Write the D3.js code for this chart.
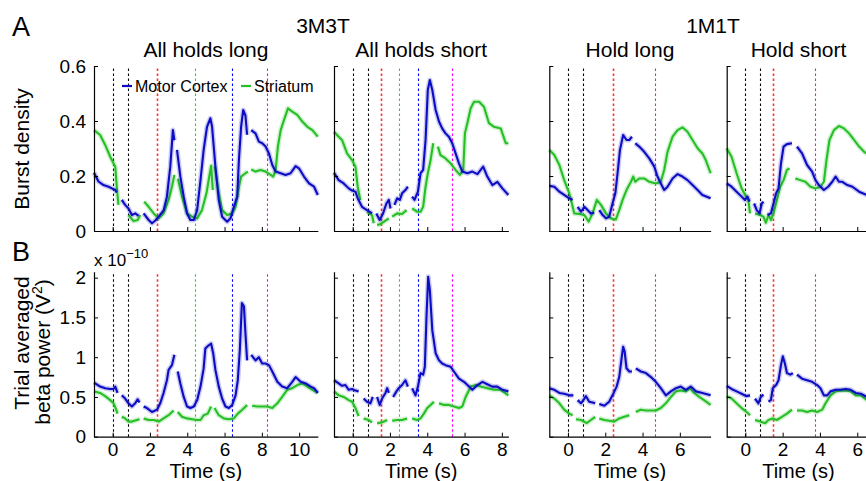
<!DOCTYPE html>
<html>
<head>
<meta charset="utf-8">
<script src="https://cdn.jsdelivr.net/npm/d3@7"></script>
<style>
  body { margin: 0; background: #fff; }
  text { font-family: "Liberation Sans", Arial, sans-serif; fill: #000; }
</style>
</head>
<body>
<div id="chart"></div>
<script>
// ---- data (time in s, burst density, beta power x 1e-10 V^2) ----
const groupTitles = ['3M3T', '1M1T'];
const panelTitles = ['All holds long', 'All holds short', 'Hold long', 'Hold short'];
const legendLabels = ['Motor Cortex', 'Striatum'];

const timeTicksLong3 = [0, 2, 4, 6, 8, 10];
const timeTicksShort3 = [0, 2, 4, 6, 8];
const timeTicks1 = [0, 2, 4, 6];
const burstTicks = [0, 0.2, 0.4, 0.6];
const powerTicks = [0, 0.5, 1, 1.5, 2];

const eventsLong3 = [[0, 'cue'], [0.8, 'cue'], [2.4, 'hold1'], [4.4, 'hold2'], [6.4, 'hold3'], [8.25, 'end']];
const eventsShort3 = [[0, 'cue'], [0.8, 'cue'], [1.5, 'hold1'], [2.5, 'hold2'], [3.5, 'hold3'], [5.35, 'end']];
const eventsLong1 = [[0, 'cue'], [0.8, 'cue'], [2.4, 'hold1'], [4.65, 'end']];
const eventsShort1 = [[0, 'cue'], [0.8, 'cue'], [1.5, 'hold1'], [3.75, 'end']];

// null = gap in the trace
const burstMotorLong3 = [[-1.0,0.212],[-0.76,0.18],[-0.49,0.167],[-0.22,0.161],[-0.04,0.155],[0.14,0.149],[0.22,0.14],null,[0.49,0.113],[0.67,0.095],[0.85,0.082],[1.03,0.058],[1.21,0.064],[1.39,0.055],null,[1.66,0.064],[1.93,0.04],[2.11,0.028],[2.29,0.038],[2.47,0.052],[2.74,0.076],[2.91,0.125],[3.09,0.234],[3.23,0.367],[3.31,0.33],null,[3.45,0.295],[3.63,0.198],[3.81,0.125],[3.99,0.064],[4.17,0.04],[4.35,0.04],[4.53,0.076],[4.71,0.185],[4.88,0.295],[5.06,0.379],[5.24,0.41],[5.33,0.38],[5.51,0.234],[5.69,0.113],[5.87,0.052],[6.14,0.034],[6.32,0.046],[6.5,0.088],[6.68,0.125],[6.77,0.258],[6.89,0.38],[7.0,0.44],[7.12,0.42],[7.21,0.35],null,[7.43,0.367],[7.66,0.355],[7.84,0.325],[8.02,0.319],[8.2,0.307],[8.38,0.282],[8.56,0.24],[8.74,0.216],[9.01,0.21],[9.27,0.204],[9.54,0.21],[9.81,0.236],[9.99,0.228],[10.26,0.198],[10.53,0.173],[10.8,0.161],[11.0,0.131]];
const burstStriatumLong3 = [[-1.0,0.367],[-0.67,0.349],[-0.4,0.313],[-0.13,0.27],[0.14,0.234],[0.22,0.161],[0.31,0.095],null,[0.85,0.058],[1.12,0.036],[1.34,0.04],[1.48,0.058],null,[1.69,0.107],[1.93,0.088],[2.2,0.064],[2.47,0.046],[2.73,0.064],[3.0,0.113],[3.18,0.161],[3.31,0.204],null,[3.5,0.19],[3.72,0.125],[3.99,0.064],[4.26,0.052],[4.53,0.046],[4.79,0.076],[5.03,0.137],[5.21,0.21],[5.28,0.237],[5.37,0.149],null,[5.48,0.234],[5.69,0.137],[5.87,0.076],[6.14,0.058],[6.41,0.064],[6.59,0.088],[6.77,0.161],[6.89,0.198],[7.12,0.21],[7.25,0.216],null,[7.43,0.224],[7.66,0.216],[7.93,0.222],[8.2,0.216],[8.47,0.204],[8.61,0.198],[8.74,0.222],[8.86,0.307],[9.01,0.367],[9.19,0.404],[9.4,0.446],[9.63,0.434],[9.9,0.422],[10.17,0.398],[10.44,0.379],[10.71,0.367],[11.0,0.343]];
const burstMotorShort3 = [[-1.0,0.212],[-0.75,0.185],[-0.48,0.173],[-0.21,0.155],[-0.03,0.147],[0.15,0.143],[0.27,0.119],[0.5,0.088],[0.77,0.076],[1.04,0.064],null,[1.27,0.064],[1.45,0.04],[1.63,0.064],[1.81,0.1],[1.94,0.113],[2.03,0.082],null,[2.24,0.095],[2.39,0.119],[2.53,0.113],[2.65,0.137],[2.83,0.149],[2.96,0.161],null,[3.19,0.125],[3.32,0.113],[3.5,0.143],[3.64,0.21],[3.78,0.222],[3.91,0.331],[4.03,0.513],[4.14,0.549],[4.27,0.513],[4.45,0.44],[4.63,0.398],[4.8,0.373],[4.98,0.355],[5.16,0.343],[5.34,0.319],[5.52,0.282],[5.7,0.246],[5.88,0.216],[6.15,0.21],[6.42,0.216],[6.69,0.207],[7.0,0.234],[7.22,0.198],[7.49,0.167],[7.76,0.179],[8.03,0.155],[8.35,0.131]];
const burstStriatumShort3 = [[-1.0,0.361],[-0.75,0.343],[-0.57,0.331],[-0.3,0.282],[-0.03,0.258],[0.15,0.234],[0.27,0.161],[0.41,0.113],null,[0.77,0.07],[1.04,0.058],[1.13,0.028],null,[1.31,0.022],[1.49,0.025],[1.76,0.038],[1.94,0.046],null,[2.12,0.052],[2.39,0.064],[2.65,0.062],[2.89,0.076],null,[3.19,0.082],[3.46,0.07],[3.64,0.07],[3.78,0.088],[3.91,0.161],[4.03,0.21],[4.18,0.258],[4.32,0.319],null,[4.57,0.307],[4.71,0.276],[4.98,0.264],[5.25,0.246],[5.52,0.222],[5.75,0.204],[5.93,0.222],[6.02,0.355],[6.15,0.392],[6.33,0.446],[6.51,0.47],[6.78,0.47],[7.04,0.452],[7.31,0.392],[7.58,0.379],[7.94,0.373],[8.21,0.319],[8.35,0.319]];
const burstMotorLong1 = [[-1.0,0.164],[-0.73,0.161],[-0.46,0.143],[-0.2,0.131],[0.07,0.119],[0.25,0.113],null,[0.52,0.088],[0.7,0.07],[0.88,0.088],[1.05,0.076],[1.23,0.064],[1.41,0.067],null,[1.68,0.076],[1.86,0.058],[2.04,0.046],[2.21,0.052],[2.39,0.1],[2.54,0.137],[2.66,0.21],[2.79,0.295],[2.96,0.349],[3.14,0.331],[3.29,0.331],[3.43,0.343],null,[3.61,0.319],[3.82,0.307],[4.09,0.288],[4.36,0.264],[4.63,0.234],[4.8,0.198],[4.98,0.173],[5.16,0.149],[5.34,0.161],[5.61,0.191],[5.88,0.207],[6.14,0.198],[6.41,0.185],[6.68,0.167],[6.95,0.149],[7.21,0.131],[7.65,0.119]];
const burstStriatumLong1 = [[-1.0,0.295],[-0.73,0.276],[-0.46,0.24],[-0.2,0.185],[0.07,0.137],[0.21,0.1],[0.34,0.064],[0.61,0.062],[0.88,0.058],[1.11,0.034],[1.32,0.064],[1.55,0.113],[1.77,0.095],[2.04,0.064],[2.3,0.046],[2.57,0.042],[2.75,0.076],[2.93,0.113],[3.14,0.149],[3.38,0.179],[3.5,0.198],[3.61,0.179],[3.82,0.191],[4.09,0.191],[4.36,0.179],[4.71,0.173],[4.98,0.179],[5.16,0.222],[5.34,0.288],[5.61,0.343],[5.88,0.367],[6.14,0.377],[6.41,0.361],[6.68,0.331],[6.95,0.301],[7.21,0.282],[7.39,0.258],[7.65,0.21]];
const burstMotorShort1 = [[-1.0,0.173],[-0.74,0.161],[-0.47,0.143],[-0.2,0.125],[-0.02,0.113],[0.11,0.125],[0.22,0.107],null,[0.47,0.1],[0.61,0.076],[0.76,0.064],[0.88,0.1],[0.97,0.107],null,[1.19,0.058],[1.37,0.064],[1.51,0.1],[1.65,0.137],[1.78,0.155],[1.91,0.246],[2.05,0.307],[2.23,0.316],[2.5,0.319],null,[2.77,0.307],[3.04,0.282],[3.31,0.24],[3.58,0.216],[3.76,0.185],[3.94,0.167],[4.21,0.149],[4.44,0.161],[4.66,0.179],[4.84,0.198],[5.02,0.179],[5.2,0.179],[5.47,0.167],[5.74,0.161],[6.1,0.143],[6.51,0.131],[6.7,0.125]];
const burstStriatumShort1 = [[-1.0,0.301],[-0.74,0.27],[-0.47,0.21],[-0.2,0.155],[0.04,0.125],[0.16,0.113],[0.25,0.064],null,[0.52,0.064],[0.79,0.058],[0.97,0.052],[1.1,0.03],[1.24,0.058],[1.37,0.04],[1.51,0.064],[1.69,0.113],[1.87,0.161],[2.05,0.185],[2.23,0.222],[2.37,0.228],null,[2.68,0.191],[2.95,0.185],[3.22,0.179],[3.49,0.161],[3.76,0.155],[4.03,0.161],[4.21,0.179],[4.35,0.258],[4.51,0.331],[4.75,0.367],[5.02,0.382],[5.29,0.373],[5.56,0.355],[5.83,0.331],[6.1,0.307],[6.37,0.288],[6.51,0.282],[6.7,0.27]];

const powerMotorLong3 = [[-1.0,0.68],[-0.67,0.63],[-0.4,0.61],[-0.13,0.6],[0.05,0.6],[0.14,0.63],[0.26,0.55],null,[0.49,0.52],[0.67,0.48],[0.85,0.42],[1.03,0.38],[1.21,0.42],[1.34,0.47],[1.44,0.43],null,[1.66,0.38],[1.84,0.36],[2.11,0.31],[2.38,0.34],[2.55,0.42],[2.73,0.55],[2.91,0.71],[3.0,0.84],[3.18,0.9],[3.31,1.03],null,[3.49,0.82],[3.63,0.67],[3.81,0.5],[3.99,0.38],[4.17,0.36],[4.35,0.38],[4.53,0.46],[4.71,0.63],[4.88,0.86],[4.97,1.11],[5.15,1.15],[5.28,1.17],[5.39,1.05],[5.51,0.84],[5.69,0.63],[5.87,0.48],[6.05,0.38],[6.23,0.36],[6.41,0.4],[6.59,0.52],[6.71,0.71],[6.82,1.09],[6.93,1.68],[7.04,1.64],[7.12,1.3],[7.21,0.96],null,[7.43,1.03],[7.66,0.96],[7.84,1.0],[8.02,0.92],[8.2,0.92],[8.38,0.9],[8.56,0.82],[8.83,0.69],[9.09,0.63],[9.36,0.61],[9.63,0.69],[9.81,0.75],[10.08,0.69],[10.35,0.67],[10.62,0.63],[10.8,0.61],[11.0,0.55]];
const powerStriatumLong3 = [[-1.0,0.57],[-0.67,0.55],[-0.4,0.51],[-0.13,0.46],[0.05,0.42],[0.19,0.34],[0.26,0.29],null,[0.49,0.25],[0.67,0.23],[0.85,0.19],[1.03,0.19],[1.3,0.21],[1.44,0.22],null,[1.66,0.23],[1.93,0.21],[2.2,0.21],[2.47,0.19],[2.73,0.23],[3.0,0.27],[3.27,0.33],null,[3.49,0.31],[3.72,0.25],[3.99,0.23],[4.26,0.22],[4.53,0.21],[4.71,0.21],[4.88,0.27],[5.1,0.29],[5.28,0.38],null,[5.46,0.36],[5.69,0.27],[5.96,0.23],[6.23,0.22],[6.5,0.23],[6.71,0.29],[6.95,0.34],[7.21,0.4],null,[7.48,0.39],[7.75,0.38],[8.02,0.38],[8.29,0.38],[8.56,0.36],[8.83,0.42],[9.09,0.5],[9.36,0.59],[9.63,0.61],[9.9,0.65],[10.17,0.67],[10.44,0.63],[10.71,0.59],[11.0,0.55]];
const powerMotorShort3 = [[-1.0,0.71],[-0.75,0.67],[-0.57,0.64],[-0.39,0.65],[-0.21,0.59],[-0.03,0.6],[0.15,0.58],[0.32,0.57],null,[0.59,0.48],[0.77,0.44],[0.95,0.42],[1.08,0.5],null,[1.31,0.5],[1.45,0.4],[1.58,0.48],[1.76,0.55],[1.85,0.61],[1.94,0.55],null,[2.17,0.5],[2.35,0.57],[2.47,0.61],[2.65,0.65],[2.83,0.71],[2.96,0.63],null,[3.19,0.61],[3.37,0.52],[3.5,0.63],[3.64,0.8],[3.78,0.78],[3.87,0.88],[3.96,1.51],[4.05,2.01],[4.14,1.84],[4.27,1.34],[4.45,1.05],[4.63,0.96],[4.8,0.92],[4.98,0.9],[5.25,0.88],[5.43,0.82],[5.7,0.73],[5.97,0.69],[6.24,0.63],[6.42,0.59],[6.69,0.65],[6.96,0.69],[7.22,0.66],[7.49,0.63],[7.76,0.63],[8.03,0.59],[8.35,0.57]];
const powerStriatumShort3 = [[-1.0,0.57],[-0.75,0.52],[-0.48,0.5],[-0.21,0.46],[-0.03,0.44],[0.15,0.36],[0.32,0.26],null,[0.59,0.23],[0.86,0.21],[1.04,0.18],null,[1.31,0.17],[1.58,0.18],[1.85,0.21],null,[2.12,0.2],[2.39,0.21],[2.65,0.21],[2.92,0.23],null,[3.19,0.23],[3.46,0.21],[3.64,0.23],[3.82,0.29],[4.0,0.36],[4.18,0.4],[4.36,0.44],null,[4.63,0.42],[4.89,0.4],[5.16,0.4],[5.43,0.38],[5.7,0.36],[5.88,0.38],[6.06,0.5],[6.33,0.63],[6.6,0.65],[6.87,0.63],[7.22,0.61],[7.58,0.59],[7.94,0.59],[8.35,0.52]];
const powerMotorLong1 = [[-1.0,0.61],[-0.73,0.59],[-0.46,0.55],[-0.2,0.54],[0.07,0.52],[0.29,0.52],null,[0.52,0.46],[0.7,0.42],[0.88,0.48],[0.96,0.51],[1.14,0.44],[1.32,0.43],[1.46,0.42],null,[1.68,0.41],[1.95,0.39],[2.21,0.44],[2.39,0.52],[2.61,0.63],[2.75,0.75],[2.89,1.01],[2.96,1.13],[3.04,1.07],[3.14,0.86],[3.29,0.82],[3.43,0.82],null,[3.64,0.86],[3.91,0.82],[4.18,0.8],[4.45,0.75],[4.71,0.69],[4.98,0.61],[5.25,0.52],[5.52,0.57],[5.79,0.61],[6.05,0.63],[6.32,0.59],[6.59,0.63],[6.86,0.57],[7.21,0.55],[7.65,0.52]];
const powerStriatumLong1 = [[-1.0,0.52],[-0.73,0.48],[-0.46,0.42],[-0.2,0.34],[0.07,0.29],[0.25,0.27],null,[0.43,0.22],[0.7,0.21],[1.0,0.17],[1.23,0.21],[1.46,0.25],null,[1.68,0.23],[1.95,0.21],[2.21,0.2],[2.48,0.19],[2.75,0.23],[3.02,0.25],[3.29,0.27],null,[3.64,0.31],[3.91,0.34],[4.18,0.33],[4.45,0.33],[4.71,0.33],[4.98,0.36],[5.25,0.42],[5.52,0.5],[5.79,0.57],[6.05,0.58],[6.32,0.57],[6.54,0.61],[6.77,0.55],[7.04,0.5],[7.3,0.46],[7.65,0.4]];
const powerMotorShort1 = [[-1.0,0.64],[-0.74,0.6],[-0.47,0.57],[-0.2,0.54],[0.04,0.51],[0.25,0.52],null,[0.52,0.48],[0.7,0.42],[0.83,0.5],[0.97,0.53],null,[1.24,0.44],[1.37,0.46],[1.47,0.61],[1.65,0.65],[1.78,0.71],[1.91,0.9],[2.01,1.01],[2.12,0.92],[2.23,0.8],[2.41,0.78],[2.55,0.8],null,[2.77,0.78],[3.04,0.73],[3.31,0.71],[3.58,0.69],[3.85,0.65],[4.03,0.61],[4.21,0.52],[4.39,0.52],[4.57,0.57],[4.84,0.59],[5.11,0.59],[5.38,0.6],[5.65,0.59],[5.92,0.55],[6.19,0.54],[6.51,0.5],[6.7,0.48]];
const powerStriatumShort1 = [[-1.0,0.51],[-0.74,0.48],[-0.47,0.42],[-0.2,0.36],[0.07,0.31],[0.25,0.27],null,[0.52,0.21],[0.79,0.19],[1.06,0.17],[1.24,0.21],[1.47,0.23],[1.69,0.21],[1.96,0.25],[2.23,0.29],[2.5,0.34],null,[2.77,0.33],[3.04,0.33],[3.31,0.31],[3.58,0.33],[3.85,0.31],[4.12,0.34],[4.3,0.42],[4.57,0.52],[4.84,0.57],[5.11,0.58],[5.38,0.58],[5.65,0.57],[5.92,0.52],[6.19,0.52],[6.51,0.46],[6.7,0.44]];

// ---- layout ----
const width = 866, height = 481;
const pxPerSec = 18.65;
const motorColor = '#0c0cc4', striatumColor = '#26c026';
const eventColors = { cue: '#000', hold1: '#ff3030', hold2: '#00ee00', hold3: '#0000ff', end: '#ff00ff' };
const font = '"Liberation Sans", Arial, sans-serif';

const panels = [
    { left: 94, tEnd: 11, ticks: timeTicksLong3, events: eventsLong3, title: panelTitles[0],
      burst: [burstMotorLong3, burstStriatumLong3], power: [powerMotorLong3, powerStriatumLong3] },
    { left: 334, tEnd: 8.35, ticks: timeTicksShort3, events: eventsShort3, title: panelTitles[1],
      burst: [burstMotorShort3, burstStriatumShort3], power: [powerMotorShort3, powerStriatumShort3] },
    { left: 549.3, tEnd: 7.65, ticks: timeTicks1, events: eventsLong1, title: panelTitles[2],
      burst: [burstMotorLong1, burstStriatumLong1], power: [powerMotorLong1, powerStriatumLong1] },
    { left: 726.7, tEnd: 6.7, ticks: timeTicks1, events: eventsShort1, title: panelTitles[3],
      burst: [burstMotorShort1, burstStriatumShort1], power: [powerMotorShort1, powerStriatumShort1] },
];

const yBurst = d3.scaleLinear().domain([0, 0.6]).range([231, 66]);
const yPower = d3.scaleLinear().domain([0, 2.075]).range([436.7, 271.7]);

const svg = d3.select('#chart').append('svg')
    .attr('width', width).attr('height', height)
    .style('font-family', font);

function drawPanel(p, i, y, yTicks, seriesList, showXLabels) {
    const x = d3.scaleLinear().domain([-1, p.tEnd]).range([p.left, p.left + (p.tEnd + 1) * pxPerSec]);
    const g = svg.append('g');

    // event markers
    g.selectAll('.ev').data(p.events).enter().append('line')
        .attr('x1', d => Math.round(x(d[0])) + 0.5).attr('x2', d => Math.round(x(d[0])) + 0.5)
        .attr('y1', y.range()[0]).attr('y2', y.range()[1])
        .attr('stroke', d => eventColors[d[1]])
        .attr('stroke-width', d => d[1] === 'hold1' ? 1.6 : 1.1)
        .attr('stroke-dasharray', '2.5,2.5');

    const line = d3.line().defined(d => d !== null).x(d => x(d[0])).y(d => y(d[1]));
    const colors = [motorColor, striatumColor];
    // draw striatum first, motor cortex on top
    [1, 0].forEach(k => {
        g.append('path').attr('d', line(seriesList[k])).attr('fill', 'none')
            .attr('stroke', colors[k]).attr('stroke-opacity', 0.22).attr('stroke-width', 5)
            .attr('stroke-linejoin', 'round');
        g.append('path').attr('d', line(seriesList[k])).attr('fill', 'none')
            .attr('stroke', colors[k]).attr('stroke-width', 2.1).attr('stroke-linejoin', 'round');
    });

    const xAxis = d3.axisBottom(x).tickValues(p.ticks).tickSizeInner(-4).tickSizeOuter(0).tickPadding(6)
        .tickFormat(showXLabels ? d3.format('d') : '');
    const gx = g.append('g').attr('transform', `translate(0,${y.range()[0]})`).call(xAxis);
    gx.selectAll('text').style('font-size', '19px').style('font-family', font).attr('dy', '0.71em');

    const yAxis = d3.axisLeft(y).tickValues(yTicks).tickSizeInner(-4).tickSizeOuter(0).tickPadding(8)
        .tickFormat(i === 0 ? (d => d === 0 ? '0' : String(d)) : '');
    const gy = g.append('g').attr('transform', `translate(${p.left},0)`).call(yAxis);
    gy.selectAll('text').style('font-size', '19px').style('font-family', font);

    [gx, gy].forEach(a => {
        a.select('.domain').attr('stroke', '#000').attr('stroke-width', 1.2);
        a.selectAll('.tick line').attr('stroke', '#000');
    });

    if (showXLabels) {
        g.append('text').attr('x', (x.range()[0] + x.range()[1]) / 2).attr('y', 478)
            .attr('text-anchor', 'middle').style('font-size', '20px').text('Time (s)');
    } else {
        g.append('text').attr('x', (x.range()[0] + x.range()[1]) / 2).attr('y', 56.5)
            .attr('text-anchor', 'middle').style('font-size', '21px').text(p.title);
    }
}

panels.forEach((p, i) => {
    drawPanel(p, i, yBurst, burstTicks, p.burst, false);
    drawPanel(p, i, yPower, powerTicks, p.power, true);
});

// group titles
svg.append('text').attr('x', 323).attr('y', 33).attr('text-anchor', 'middle')
    .style('font-size', '21px').text(groupTitles[0]);
svg.append('text').attr('x', 713).attr('y', 33).attr('text-anchor', 'middle')
    .style('font-size', '21px').text(groupTitles[1]);

// panel letters
svg.append('text').attr('x', 12).attr('y', 36).style('font-size', '27px').text('A');
svg.append('text').attr('x', 12).attr('y', 261).style('font-size', '27px').text('B');

// y labels
svg.append('text').attr('transform', 'translate(28.5,149) rotate(-90)')
    .attr('text-anchor', 'middle').style('font-size', '21px').text('Burst density');
svg.append('text').attr('transform', 'translate(28.5,343) rotate(-90)')
    .attr('text-anchor', 'middle').style('font-size', '21px').text('Trial averaged');
const pw = svg.append('text').attr('transform', 'translate(49.5,352) rotate(-90)')
    .attr('text-anchor', 'middle').style('font-size', '21px');
pw.append('tspan').text('beta power (V');
pw.append('tspan').attr('dy', -8).style('font-size', '14px').text('2');
pw.append('tspan').attr('dy', 8).text(')');

// exponent note
const ex = svg.append('text').attr('x', 94).attr('y', 266).style('font-size', '17px');
ex.append('tspan').text('x 10');
ex.append('tspan').attr('dy', -8).style('font-size', '13px').text('\u221210');

// legend
const legend = svg.append('g');
[[122, motorColor, legendLabels[0]], [241, striatumColor, legendLabels[1]]].forEach(([lx, c, label]) => {
    legend.append('line').attr('x1', lx).attr('x2', lx + 10).attr('y1', 86).attr('y2', 86)
        .attr('stroke', c).attr('stroke-width', 2.2);
    legend.append('text').attr('x', lx + 13).attr('y', 91.5).style('font-size', '16px').text(label);
});
</script>
</body>
</html>
